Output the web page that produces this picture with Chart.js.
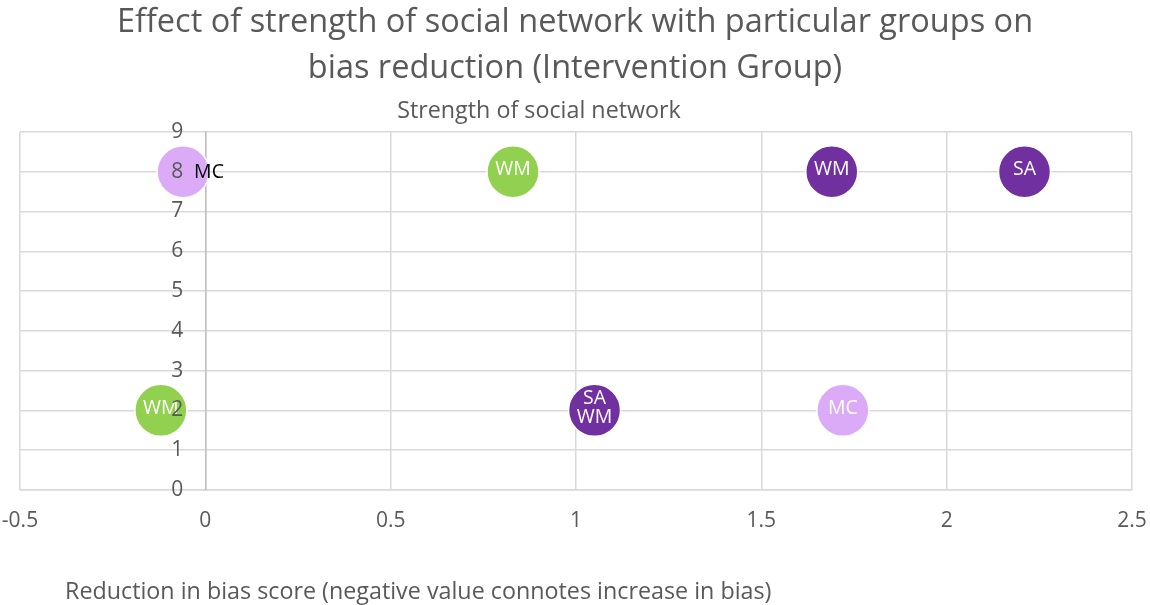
<!DOCTYPE html>
<html>
<head>
<meta charset="utf-8">
<script src="https://cdn.jsdelivr.net/npm/chart.js@4"></script>
<style>
    html, body { margin: 0; padding: 0; background: #ffffff; }
    #wrap { width: 1150px; height: 605px; }
</style>
</head>
<body>
<div id="wrap"><canvas id="myChart" width="1150" height="605"></canvas></div>
<script>
// Data

const titleLines = ["Effect of strength of social network with particular groups on", "bias reduction (Intervention Group)"];
const yTitle = "Strength of social network";
const xTitle = "Reduction in bias score (negative value connotes increase in bias)";

const mcX = [-0.06, 1.72];
const mcY = [8, 2];
const mcLabels = ["MC", "MC"];

const wmGreenX = [0.83, -0.12];
const wmGreenY = [8, 2];
const wmGreenLabels = ["WM", "WM"];

const darkX = [1.69, 2.21, 1.05, 1.05];
const darkY = [8, 8, 2, 2];
const darkLabels = ["WM", "SA", "SA", "WM"];

const toPoints = (xs, ys) => xs.map((x, i) => ({ x: x, y: ys[i] }));

const fontFamily = "'Open Sans', 'Noto Sans', sans-serif";
const textGrey = "#595959";

// Setup

const data = {
    datasets: [
        {
            label: "MC",
            data: toPoints(mcX, mcY),
            pointLabels: mcLabels,
            labelSide: ["right", "center"],
            backgroundColor: "#dcabf8",
        },
        {
            label: "WM",
            data: toPoints(wmGreenX, wmGreenY),
            pointLabels: wmGreenLabels,
            backgroundColor: "#92d050",
        },
        {
            label: "Dark",
            data: toPoints(darkX, darkY),
            pointLabels: darkLabels,
            backgroundColor: "#7030a0",
        },
    ],
};

// Plugins: point labels, axis titles, y tick offset

const pointLabelPlugin = {
    id: "pointLabels",
    afterDatasetsDraw(chart) {
        const ctx = chart.ctx;
        const groups = {};
        chart.data.datasets.forEach((ds, di) => {
            const meta = chart.getDatasetMeta(di);
            meta.data.forEach((pt, i) => {
                const side = ds.labelSide ? ds.labelSide[i] : "center";
                const key = Math.round(pt.x) + "_" + Math.round(pt.y) + "_" + side;
                if (!groups[key]) groups[key] = { x: pt.x, y: pt.y, side: side, texts: [] };
                groups[key].texts.push(ds.pointLabels[i]);
            });
        });
        ctx.save();
        ctx.font = "19.5px " + fontFamily;
        ctx.textBaseline = "middle";
        const lh = 19;
        Object.values(groups).forEach(g => {
            const n = g.texts.length;
            g.texts.forEach((t, k) => {
                const y = g.y - 2 + (k - (n - 1) / 2) * lh;
                if (g.side === "right") {
                    ctx.fillStyle = "#000000";
                    ctx.textAlign = "left";
                    ctx.fillText(t, g.x + 11, y + 3);
                } else {
                    ctx.fillStyle = "#ffffff";
                    ctx.textAlign = "center";
                    ctx.fillText(t, g.x, y);
                }
            });
        });
        ctx.restore();
    }
};

// y axis sits at x = 0, push its tick labels a bit to the left of the line
const yTickShift = {
    id: "yTickShift",
    beforeDraw(chart) {
        chart.scales.y.getLabelItems(chart.chartArea).forEach(it => {
            if (!it._shifted) {
                it.options.translation[0] -= 22;
                it._shifted = true;
            }
        });
    }
};

const axisTitlePlugin = {
    id: "axisTitles",
    afterDraw(chart) {
        const ctx = chart.ctx;
        ctx.save();
        ctx.font = "23.3px " + fontFamily;
        ctx.fillStyle = textGrey;
        ctx.textBaseline = "middle";
        ctx.textAlign = "center";
        ctx.fillText(yTitle, 539, 111);
        ctx.textAlign = "left";
        ctx.fillText(xTitle, 65, 592);
        ctx.restore();
    }
};

// Config

const config = {
    type: "scatter",
    data,
    options: {
        responsive: false,
        animation: false,
        layout: {
            autoPadding: false,
            padding: { left: 0, right: 0, top: 0, bottom: 52 }
        },
        elements: {
            point: {
                radius: 26,
                hoverRadius: 26,
                borderColor: "#ffffff",
                borderWidth: 1.5
            }
        },
        plugins: {
            legend: { display: false },
            tooltip: { enabled: false },
            title: {
                display: true,
                text: titleLines,
                color: textGrey,
                font: { family: fontFamily, size: 32.5, weight: "normal", lineHeight: 1.415 },
                padding: { top: 0, bottom: 40 }
            }
        },
        scales: {
            x: {
                type: "linear",
                position: "bottom",
                min: -0.5,
                max: 2.5,
                // tick padding would also widen the side margins, keep them tight
                afterFit: scale => {
                    scale.paddingLeft = 20;
                    scale.paddingRight = 18;
                },
                ticks: {
                    stepSize: 0.5,
                    color: textGrey,
                    font: { family: fontFamily, size: 21 },
                    padding: 19,
                    maxRotation: 0,
                    callback: v => String(v)
                },
                grid: {
                    color: "#d9d9d9",
                    lineWidth: 1.5,
                    drawTicks: false
                },
                border: { color: "#d9d9d9", width: 1.5 }
            },
            y: {
                type: "linear",
                position: { x: 0 },
                min: 0,
                max: 9,
                ticks: {
                    stepSize: 1,
                    color: textGrey,
                    font: { family: fontFamily, size: 21 },
                    z: 1
                },
                grid: {
                    color: "#d9d9d9",
                    lineWidth: 1.5,
                    drawTicks: false
                },
                border: { color: "#bfbfbf", width: 1.5 }
            }
        }
    },
    plugins: [pointLabelPlugin, yTickShift, axisTitlePlugin]
};

// Render init block

const myChart = new Chart(document.getElementById("myChart"), config);
</script>
</body>
</html>
